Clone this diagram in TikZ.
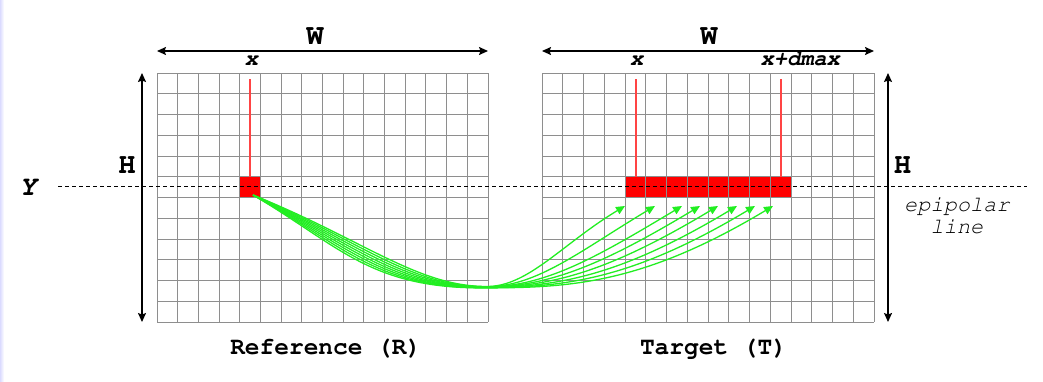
\documentclass[tikz,border=0pt]{standalone}
\usepackage[T1]{fontenc}
\usetikzlibrary{arrows.meta}
\newcommand\cour{\fontencoding{T1}\fontfamily{pcr}\selectfont}
\definecolor{gridgray}{HTML}{8E8E8E}
\definecolor{arrowgreen}{HTML}{22EE22}
\definecolor{cellred}{HTML}{FF0000}
\definecolor{linered}{HTML}{FF4444}
\tikzset{
  gridline/.style={draw=gridgray, line width=1.2pt},
  dimarrow/.style={draw=black, line width=1.4pt, {Stealth[length=9pt,width=8pt,inset=1.5pt]}-{Stealth[length=9pt,width=8pt,inset=1.5pt]}},
  bigbold/.style={font=\cour\bfseries\fontsize{29}{29}\selectfont, inner sep=0pt},
  axislabel/.style={font=\cour\bfseries\slshape\fontsize{22}{22}\selectfont, inner sep=0pt, anchor=base},
  ylabel/.style={font=\cour\bfseries\slshape\fontsize{28}{28}\selectfont, inner sep=0pt, anchor=base},
  caption/.style={font=\cour\bfseries\fontsize{24.5}{24.5}\selectfont, inner sep=0pt, anchor=base},
  note/.style={font=\cour\slshape\fontsize{22}{22}\selectfont, inner sep=0pt, anchor=base, text=black},
  redline/.style={draw=linered, line width=1.8pt},
  match/.style={draw=arrowgreen, line width=1.3pt, -{Triangle[length=9pt,width=8pt]}},
}
\begin{document}
\begin{tikzpicture}[x=1pt,y=-1pt]
\useasboundingbox (0,0) rectangle (1043,381);
\fill[left color=blue!14, right color=white] (0,0) rectangle (4,381);
\fill[white] (4,0) rectangle (1043,381);

% red cells (under the grid)
\fill[cellred] (239.5,176.5) rectangle (260.5,197.5);
\fill[cellred] (625.5,176.5) rectangle (791.5,197.5);

% left grid
\foreach \i in {0,...,16} \draw[gridline] ({int(157+\i*20.6875)+0.5},73) -- ({int(157+\i*20.6875)+0.5},322);
\foreach \j in {0,...,12} \draw[gridline] (157,{int(73+\j*20.75)+0.5}) -- (488,{int(73+\j*20.75)+0.5});
% right grid
\foreach \i in {0,...,16} \draw[gridline] ({int(542+\i*20.75)+0.5},73) -- ({int(542+\i*20.75)+0.5},322);
\foreach \j in {0,...,12} \draw[gridline] (542,{int(73+\j*20.75)+0.5}) -- (874,{int(73+\j*20.75)+0.5});

% red vertical lines
\coordinate (rl1t) at (250,79);  \coordinate (rl1b) at (250,176.5);
\coordinate (rl2t) at (636,79);  \coordinate (rl2b) at (636,176.5);
\coordinate (rl3t) at (781,79);  \coordinate (rl3b) at (781,176.5);
\draw[redline] (rl1t) -- (rl1b);
\draw[redline] (rl2t) -- (rl2b);
\draw[redline] (rl3t) -- (rl3b);

% dashed epipolar line
\coordinate (epl) at (58,186.5);
\coordinate (epr) at (1027,186.5);
\draw[black, line width=1.1pt, dash pattern=on 4pt off 3pt] (epl) -- (epr);

% dimension arrows
\coordinate (wl1) at (157,51); \coordinate (wr1) at (488,51);
\coordinate (wl2) at (542,51); \coordinate (wr2) at (874,51);
\coordinate (ht1) at (142,73); \coordinate (hb1) at (142,322);
\coordinate (ht2) at (888,73); \coordinate (hb2) at (888,322);
\draw[dimarrow] (wl1) -- (wr1);
\draw[dimarrow] (wl2) -- (wr2);
\draw[dimarrow] (ht1) -- (hb1);
\draw[dimarrow] (ht2) -- (hb2);

% labels
\node[bigbold] (W1) at (315,36) {W};
\node[bigbold] (W2) at (709,36) {W};
\node[bigbold, anchor=base] (H1) at (127,173.3) {H};
\node[bigbold, anchor=base] (H2) at (902.5,173.3) {H};
\node[ylabel] (Y) at (28,195) {Y};
\node[axislabel] (x1) at (251.5,65.7) {x};
\node[axislabel] (x2) at (636.7,65.7) {x};
\node[axislabel] (x3) at (800.3,65.7) {x+dmax};
\node[note] (ep1) at (957,211) {epipolar};
\node[note] (ep2) at (957,233.3) {line};
\node[caption] (capR) at (325.8,354.3) {Reference (R)};
\node[caption] (capT) at (713.5,354.3) {Target (T)};

% matching curves
\coordinate (src) at (253,195);
\foreach \tx [count=\k from 0] in {625,655,682,700,718,737,755,773} {
  \pgfmathsetmacro{\bx}{487-0.8*\k}
  \pgfmathsetmacro{\by}{286.5+0.2*\k}
  \pgfmathsetmacro{\dx}{\tx-\bx}
  \coordinate (tip\k) at (\tx,206);
  \coordinate (bot\k) at (\bx,\by);
  \draw[match] (src)
     .. controls ({253+(120-3*\k)*cos(22+1.2*\k)},{195+(120-3*\k)*sin(22+1.2*\k)}) and ({\bx-70-6*\k},\by) .. (bot\k)
     .. controls ({\bx+0.3*\dx},\by) and ({\tx-0.45*\dx},{206+0.27*\dx}) .. (tip\k);
}
\end{tikzpicture}
\end{document}
